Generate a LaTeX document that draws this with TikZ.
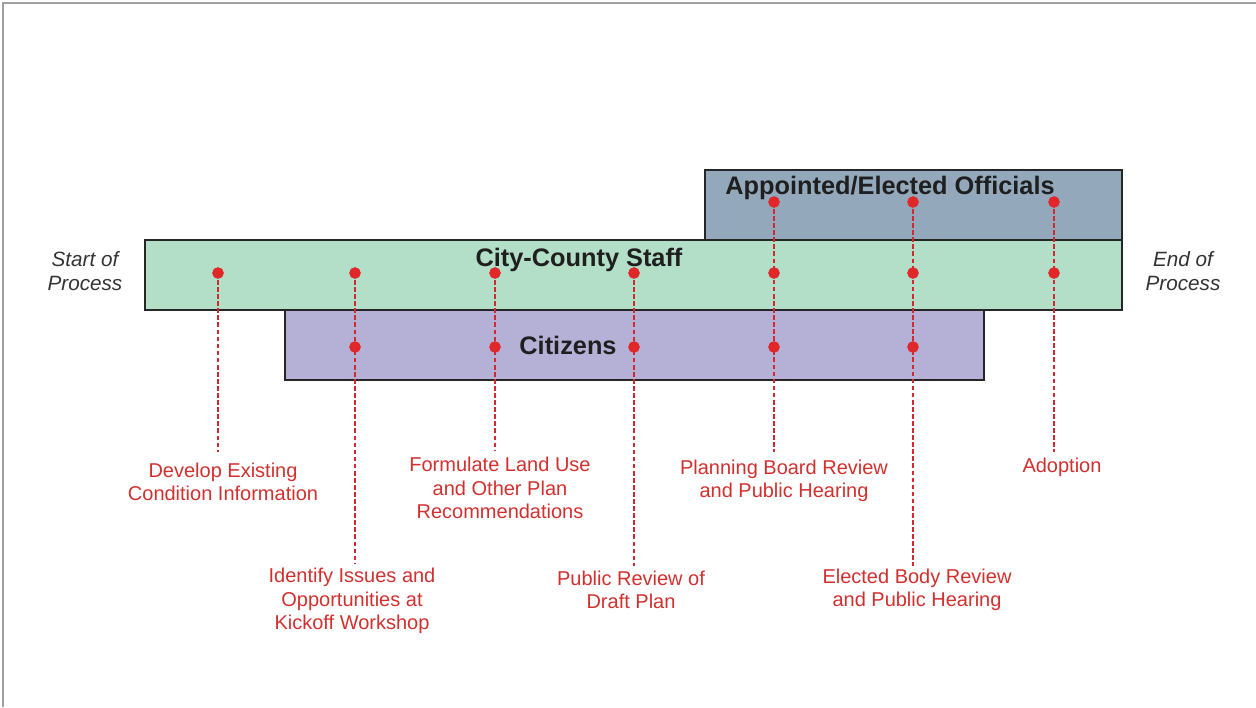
\documentclass[tikz,border=0pt]{standalone}
\usepackage{fontspec}
\setmainfont{Liberation Sans}
\definecolor{offfill}{HTML}{93A9BB}
\definecolor{stafffill}{HTML}{B3DEC8}
\definecolor{citfill}{HTML}{B5B0D6}
\definecolor{boxline}{HTML}{262626}
\definecolor{dotred}{HTML}{E0282A}
\definecolor{linered}{HTML}{D02A30}
\definecolor{textred}{HTML}{D2302F}
\definecolor{framegray}{HTML}{A0A0A0}
\definecolor{sidegray}{HTML}{333333}
\tikzset{
  band/.style={draw=boxline, line width=2pt, minimum height=52.5pt, inner sep=0pt},
  bandtitle/.style={font=\fontsize{19}{22}\selectfont\bfseries, text=black!88, inner sep=0pt},
  sidetext/.style={font=\fontsize{15.5}{18}\selectfont\itshape, text=sidegray, align=center, inner sep=0pt},
  reddot/.style={circle, fill=dotred, minimum size=8.5pt, inner sep=0pt},
  steplabel/.style={font=\fontsize{15}{17.6}\selectfont, text=textred, align=center, inner sep=0pt},
  dashline/.style={draw=linered, line width=2pt, dash pattern=on 3.5pt off 1.8pt},
}
\begin{document}
\begin{tikzpicture}[x=0.75pt, y=-0.75pt]
\useasboundingbox (0,0) rectangle (1256,707);
% frame
\draw[framegray, line width=1.5pt] (3,707) -- (3,2.5) -- (1256,2.5);
% bands
\node[band, fill=offfill, minimum width=312.75pt] (off) at (913.5,205) {};
\node[band, fill=stafffill, minimum width=732.75pt] (staff) at (633.5,275) {};
\node[band, fill=citfill, minimum width=524.25pt] (cit) at (634.5,345) {};
\node[bandtitle] (offt) at (890,188) {Appointed/Elected Officials};
\node[bandtitle] (stafft) at (579,260) {City-County Staff};
\node[bandtitle] (citt) at (568,345) {Citizens};
% side labels
\node[sidetext] (start) at (85,271) {Start of\\Process};
\node[sidetext] (end) at (1183,271) {End of\\Process};
% step labels
\node[steplabel] (l1) at (223,482) {Develop Existing\\Condition Information};
\node[steplabel] (l2) at (352,601) {Identify Issues and\\Opportunities at\\Kickoff Workshop};
\node[steplabel] (l3) at (500,488) {Formulate Land Use\\and Other Plan\\Recommendations};
\node[steplabel] (l4) at (631,590) {Public Review of\\Draft Plan};
\node[steplabel] (l5) at (784,481) {Planning Board Review\\and Public Hearing};
\node[steplabel] (l6) at (917,590) {Elected Body Review\\and Public Hearing};
\node[steplabel] (l7) at (1062,467) {Adoption};
% end points of dashed lines
\coordinate (e1) at (218,452);
\coordinate (e2) at (355,563);
\coordinate (e3) at (495,451);
\coordinate (e4) at (634,566);
\coordinate (e5) at (774,452);
\coordinate (e6) at (913,566);
\coordinate (e7) at (1054,452);
% dots
\node[reddot] (s1) at (218,273) {};
\node[reddot] (s2) at (355,273) {};
\node[reddot] (c2) at (355,347) {};
\node[reddot] (s3) at (495,273) {};
\node[reddot] (c3) at (495,347) {};
\node[reddot] (s4) at (634,273) {};
\node[reddot] (c4) at (634,347) {};
\node[reddot] (o5) at (774,202) {};
\node[reddot] (s5) at (774,273) {};
\node[reddot] (c5) at (774,347) {};
\node[reddot] (o6) at (913,202) {};
\node[reddot] (s6) at (913,273) {};
\node[reddot] (c6) at (913,347) {};
\node[reddot] (o7) at (1054,202) {};
\node[reddot] (s7) at (1054,273) {};
% dashed connectors
\draw[dashline] (s1.center) -- (e1);
\draw[dashline] (s2.center) -- (e2);
\draw[dashline] (s3.center) -- (e3);
\draw[dashline] (s4.center) -- (e4);
\draw[dashline] (o5.center) -- (e5);
\draw[dashline] (o6.center) -- (e6);
\draw[dashline] (o7.center) -- (e7);
% redraw dots on top
\foreach \d in {s1,s2,c2,s3,c3,s4,c4,o5,s5,c5,o6,s6,c6,o7,s7}
  \fill[dotred] (\d) circle (4.25pt);
\end{tikzpicture}
\end{document}
